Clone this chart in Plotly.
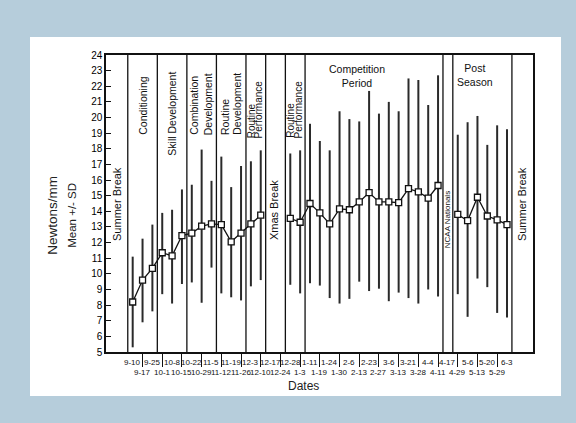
import plotly.graph_objects as go

# ---------------- data ----------------
dates = ["9-10", "9-17", "9-25", "10-1", "10-8", "10-15", "10-22", "10-29", "11-5",
         "11-12", "11-19", "11-26", "12-3", "12-10", "12-17", "12-24", "12-28", "1-3",
         "1-11", "1-19", "1-24", "1-30", "2-6", "2-13", "2-23", "2-27", "3-6", "3-13",
         "3-21", "3-28", "4-4", "4-11", "4-17", "4-29", "5-6", "5-13", "5-20", "5-29", "6-3"]

mean_nmm = [8.2, 9.6, 10.35, 11.35, 11.15, 12.45, 12.6, 13.05, 13.2,
            13.15, 12.05, 12.6, 13.2, 13.75, None, None, 13.55, 13.3,
            14.5, 13.9, 13.2, 14.15, 14.1, 14.6, 15.2, 14.6, 14.6, 14.55,
            15.45, 15.25, 14.85, 15.65, None, 13.8, 13.4, 14.9, 13.7, 13.45, 13.15]

bar_top = [11.1, 12.25, 13.15, 13.9, 14.1, 15.4, 15.7, 17.95, 15.95,
           17.5, 15.55, 16.9, 17.2, 17.9, None, None, 17.7, 17.9,
           19.6, 18.5, 17.9, 20.4, 19.9, 19.75, 21.7, 20.25, 21.0, 20.4,
           22.5, 22.4, 20.8, 22.7, None, 18.9, 19.7, 20.1, 18.25, 19.5, 19.25]

bar_bottom = [5.3, 6.9, 7.6, 8.7, 8.1, 9.35, 9.45, 8.15, 10.4,
              8.75, 8.5, 8.3, 9.2, 9.6, None, None, 9.3, 8.75,
              9.4, 9.25, 8.45, 8.1, 8.4, 9.5, 8.9, 9.05, 8.25, 8.8,
              8.45, 8.1, 9.0, 8.55, None, 8.7, 7.25, 9.7, 9.15, 7.5, 7.2]

# first date of each new training phase (a divider is drawn just before it)
phase_start_dates = ["9-10", "10-1", "10-22", "11-12", "12-3", "12-17", "12-28",
                     "1-11", "4-17", "4-29"]
season_last_date = "6-3"

y_ticks = list(range(5, 25))

# ---------------- derived ----------------
idx = {d: i for i, d in enumerate(dates)}
err_up = [None if m is None else round(t - m, 3) for m, t in zip(mean_nmm, bar_top)]
err_dn = [None if m is None else round(m - b, 3) for m, b in zip(mean_nmm, bar_bottom)]
dividers = [idx[d] - 0.5 for d in phase_start_dates] + [idx[season_last_date] + 0.5]

INK = "#111111"
FONT = "Liberation Sans, Arial, sans-serif"

fig = go.Figure()
fig.add_trace(go.Scatter(
    x=dates, y=mean_nmm, mode="lines+markers", connectgaps=False,
    line=dict(color=INK, width=1.3),
    marker=dict(symbol="square", size=6, color="white", line=dict(color=INK, width=1.3)),
    error_y=dict(type="data", symmetric=False, array=err_up, arrayminus=err_dn,
                 width=0, thickness=2, color="#2a2a2a"),
    showlegend=False, hoverinfo="skip",
))

shapes = []
# white slide panel
shapes.append(dict(type="rect", xref="paper", yref="paper", x0=-0.178, x1=1.0656,
                   y0=-0.148, y1=1.0606, fillcolor="white", line=dict(width=0), layer="below"))
# phase dividers
for xv in dividers:
    shapes.append(dict(type="line", xref="x", yref="y", x0=xv, x1=xv, y0=5, y1=24,
                       line=dict(color=INK, width=1.3)))

annotations = []
# rotated phase labels: (text, x in category units, bottom value, size)
rot_labels = [
    ("Summer Break", -1.6, 11.97, 11),
    ("Conditioning", 1.08, 18.76, 10.5),
    ("Skill Development", 3.96, 17.41, 10.5),
    ("Combination", 6.26, 18.76, 10.5),
    ("Development", 7.68, 18.76, 10.5),
    ("Routine", 9.38, 18.76, 10.5),
    ("Development", 10.57, 18.76, 10.5),
    ("Routine", 12.09, 18.56, 10),
    ("Performance", 12.76, 18.56, 10),
    ("Xmas Break", 14.36, 12.04, 11),
    ("Routine", 15.99, 18.56, 10),
    ("Performance", 16.83, 18.56, 10),
    ("NCAA Nationals", 31.99, 11.53, 8),
    ("Summer Break", 39.53, 11.97, 11),
]
for text, xv, yb, sz in rot_labels:
    annotations.append(dict(text=text, x=xv, y=yb, xref="x", yref="y", textangle=-90,
                            xanchor="center", yanchor="bottom", showarrow=False,
                            font=dict(family=FONT, size=sz, color=INK)))
for text, xv, yc in [("Competition<br>Period", 22.78, 22.66), ("Post<br>Season", 34.79, 22.75)]:
    annotations.append(dict(text=text, x=xv, y=yc, xref="x", yref="y",
                            xanchor="center", yanchor="middle", showarrow=False,
                            font=dict(family=FONT, size=10.5, color=INK)))

# two-row date labels
for i, d in enumerate(dates):
    annotations.append(dict(text=d, x=i, xref="x", yref="paper",
                            y=-0.0337 if i % 2 == 0 else -0.069,
                            xanchor="center", yanchor="middle", showarrow=False,
                            font=dict(family=FONT, size=8, color=INK)))

# axis titles
annotations.append(dict(text="Newtons/mm", x=-0.127, y=0.461, xref="paper", yref="paper",
                        textangle=-90, showarrow=False, xanchor="center", yanchor="middle",
                        font=dict(family=FONT, size=13.5, color="#222")))
annotations.append(dict(text="Mean +/- SD", x=-0.0803, y=0.461, xref="paper", yref="paper",
                        textangle=-90, showarrow=False, xanchor="center", yanchor="middle",
                        font=dict(family=FONT, size=11.5, color="#222")))
annotations.append(dict(text="Dates", x=0.462, y=-0.1145, xref="paper", yref="paper",
                        showarrow=False, xanchor="center", yanchor="middle",
                        font=dict(family=FONT, size=12, color="#222")))

fig.update_layout(
    width=576, height=423,
    margin=dict(l=106, r=43, t=55, b=71),
    paper_bgcolor="#b6cddb",
    plot_bgcolor="white",
    shapes=shapes,
    annotations=annotations,
    xaxis=dict(type="category", categoryorder="array", categoryarray=dates,
               range=[-2.71, 40.64], showgrid=False, zeroline=False,
               showline=True, linecolor=INK, linewidth=1.5, mirror=True,
               tickmode="array", tickvals=dates[1::2], ticktext=[""] * len(dates[1::2]),
               ticks="outside", ticklen=13, tickwidth=1.2, tickcolor=INK,
               showticklabels=False),
    yaxis=dict(range=[5, 24], tickmode="array", tickvals=y_ticks,
               ticktext=[str(v) for v in y_ticks],
               showgrid=False, zeroline=False,
               showline=True, linecolor=INK, linewidth=1.5, mirror=True,
               ticks="inside", ticklen=5, tickwidth=1.2, tickcolor=INK,
               tickfont=dict(family=FONT, size=10, color="#000")),
)

fig.write_html("out.html", config={"displayModeBar": False},
               post_script="document.body.style.margin='0';")
